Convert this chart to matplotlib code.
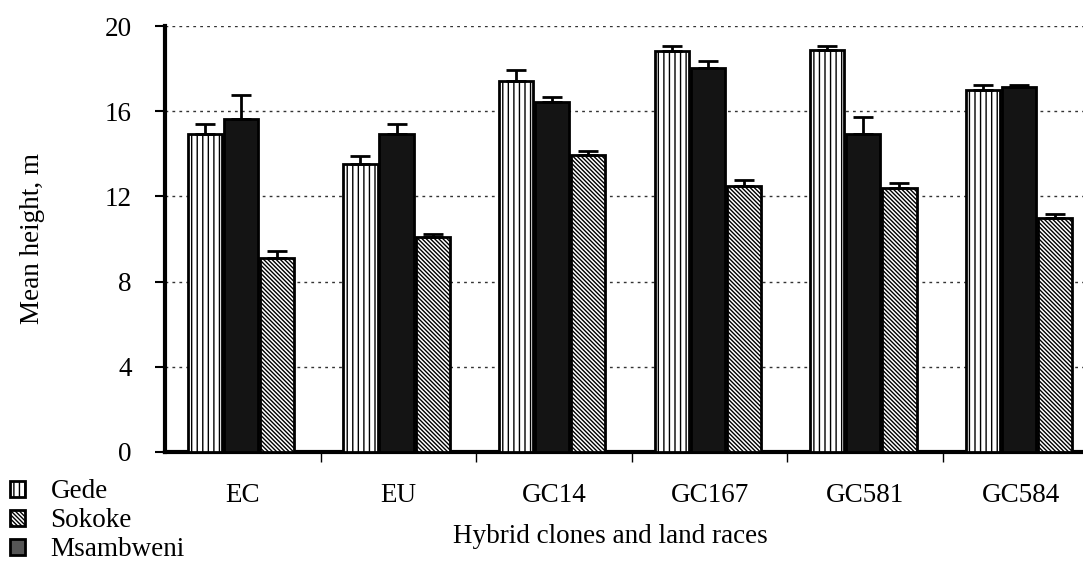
import numpy as np
import matplotlib
matplotlib.use("Agg")
import matplotlib.pyplot as plt
from matplotlib.patches import Patch

plt.rcParams['font.family'] = 'Liberation Serif'
plt.rcParams['hatch.linewidth'] = 1.0

clones = ["EC", "EU", "GC14", "GC167", "GC581", "GC584"]

# three series as drawn left to right within each group
vert_mean = [14.93, 13.50, 17.43, 18.84, 18.87, 16.98]
vert_err = [0.47, 0.40, 0.49, 0.23, 0.20, 0.25]
black_mean = [15.63, 14.93, 16.43, 18.04, 14.93, 17.12]
black_err = [1.13, 0.47, 0.22, 0.32, 0.80, 0.11]
diag_mean = [9.10, 10.10, 13.96, 12.50, 12.41, 11.00]
diag_err = [0.35, 0.13, 0.19, 0.27, 0.22, 0.17]

legend_names = ["Gede", "Sokoke", "Msambweni"]

fs = 19.5
fig = plt.figure(figsize=(10.83, 5.64), dpi=100)
ax = fig.add_axes([0.1524, 0.1986, 0.8476, 0.7553])

x = np.arange(len(clones))
w = 0.22
off = 0.232
err_kw = dict(ecolor='black', elinewidth=2, capsize=7, capthick=2)
diag = '\\' * 8

ax.bar(x - off - 0.012, vert_mean, w, color='white', edgecolor='black', hatch='|||',
       linewidth=2, yerr=[np.zeros(6), vert_err], error_kw=err_kw, zorder=3)
ax.bar(x - 0.012, black_mean, w, color='#141414', edgecolor='black',
       linewidth=2, yerr=[np.zeros(6), black_err], error_kw=err_kw, zorder=3)
ax.bar(x + off - 0.012, diag_mean, w, color='white', edgecolor='black', hatch=diag,
       linewidth=2, yerr=[np.zeros(6), diag_err], error_kw=err_kw, zorder=3)

ax.set_ylim(0, 20)
ax.set_yticks([0, 4, 8, 12, 16, 20])
ax.set_xlim(-0.5, 5.4)
ax.set_xticks(x)
ax.set_xticklabels(clones, fontsize=fs)
ax.set_xticks(np.arange(0.5, 5.0, 1.0), minor=True)
ax.tick_params(axis='x', which='major', length=0, pad=22)
ax.tick_params(axis='x', which='minor', length=7, width=1, direction='out')
ax.tick_params(axis='y', labelsize=fs, length=7, width=1.5, direction='out', pad=17)

ax.yaxis.grid(True, linestyle=(0, (2, 3)), color='#333333', linewidth=1, zorder=0)
ax.set_axisbelow(True)
for s in ['top', 'right']:
    ax.spines[s].set_visible(False)
ax.spines['left'].set_linewidth(3)
ax.spines['bottom'].set_linewidth(3)

ax.set_ylabel("Mean height, m", fontsize=fs, labelpad=43)
ax.set_xlabel("Hybrid clones and land races", fontsize=fs, labelpad=12)
ax.xaxis.set_label_coords(0.485, -0.17)

handles = [
    Patch(facecolor='white', edgecolor='black', hatch='|||', linewidth=2),
    Patch(facecolor='white', edgecolor='black', hatch=diag, linewidth=2),
    Patch(facecolor='#555555', edgecolor='black', linewidth=2),
]
fig.legend(handles, legend_names, loc='lower left', bbox_to_anchor=(-0.006, -0.026),
           frameon=False, fontsize=fs, handlelength=0.55, handleheight=0.55,
           labelspacing=0.15, handletextpad=0.95, borderaxespad=0.2)

fig.savefig("out.png", dpi=100)
